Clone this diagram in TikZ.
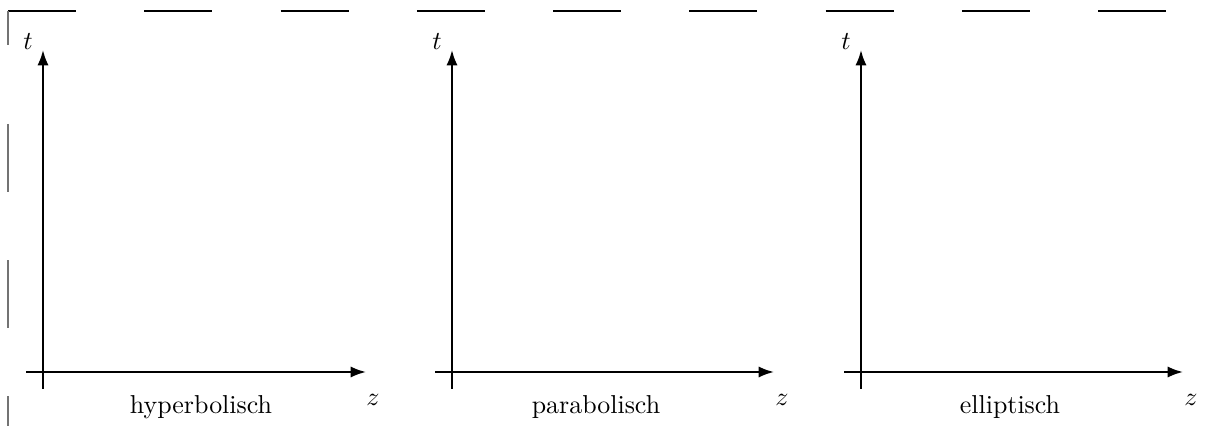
\documentclass[tikz,border=0pt]{standalone}
\usepackage{amsmath,amssymb}
\usepackage{tikz}
\usetikzlibrary{arrows.meta}

\begin{document}
\begin{tikzpicture}[x=0.386pt,y=-0.386pt,
  axis/.style={line width=0.8pt,-{Latex[length=5.9pt,width=4.3pt]}}]
\useasboundingbox (0,0) rectangle (1210,426);
% dashed frame, top and left
\draw[line width=0.4pt,dash pattern=on 26.3pt off 26.3pt] (8,11) -- (1210,11);
\draw[black!55,line width=0.4pt,dash pattern=on 13.1pt off 30.5pt on 26.3pt off 26.3pt on 26.3pt off 26.3pt on 26.3pt off 30pt] (8,11) -- (8,426);
% hyperbolisch
\coordinate (h0) at (26,372);
\coordinate (hz) at (366,372);
\coordinate (hv) at (43,389);
\coordinate (ht) at (43,50);
\draw[axis] (h0) -- (hz);
\draw[axis] (hv) -- (ht);
\node (htl) at (28,42) {$t$};
\node (hzl) at (373,400) {$z$};
\node[anchor=base] (hname) at (201,414) {hyperbolisch};
% parabolisch
\coordinate (p0) at (435,372);
\coordinate (pz) at (774,372);
\coordinate (pv) at (452,389);
\coordinate (pt) at (452,50);
\draw[axis] (p0) -- (pz);
\draw[axis] (pv) -- (pt);
\node (ptl) at (437,42) {$t$};
\node (pzl) at (782,400) {$z$};
\node[anchor=base] (pname) at (596,414) {parabolisch};
% elliptisch
\coordinate (e0) at (844,372);
\coordinate (ez) at (1183,372);
\coordinate (ev) at (861,389);
\coordinate (et) at (861,50);
\draw[axis] (e0) -- (ez);
\draw[axis] (ev) -- (et);
\node (etl) at (846,42) {$t$};
\node (ezl) at (1191,400) {$z$};
\node[anchor=base] (ename) at (1010,414) {elliptisch};
\end{tikzpicture}
\end{document}
